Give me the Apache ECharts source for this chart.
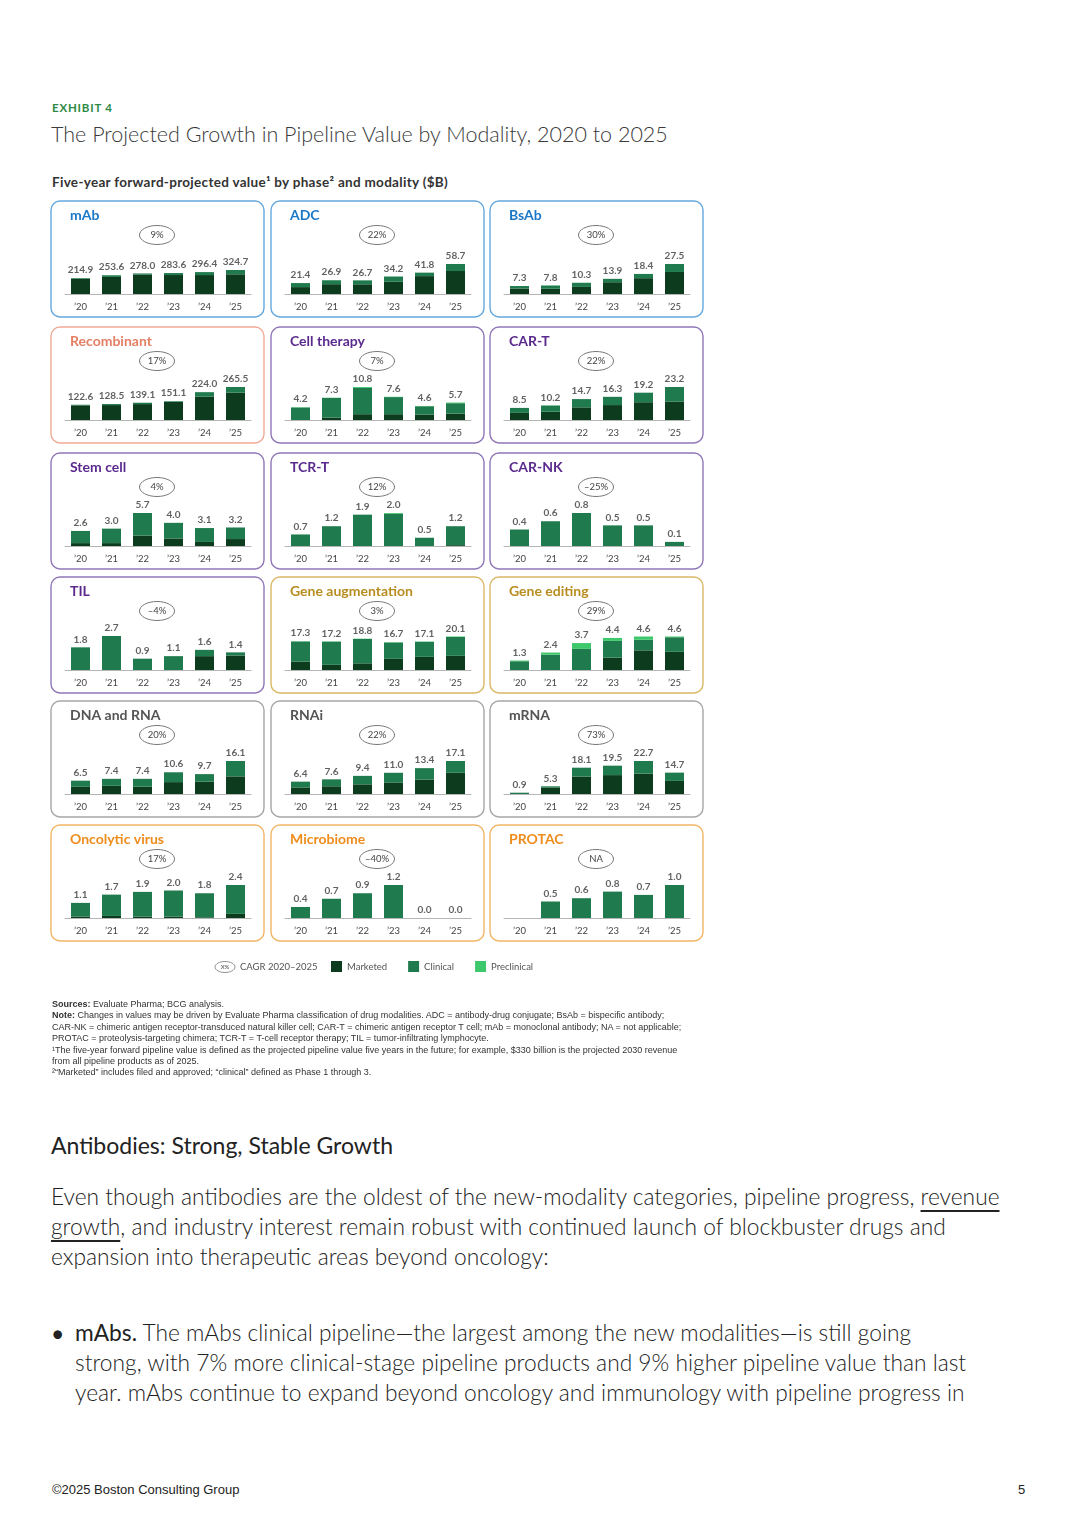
<!DOCTYPE html>
<html>
<head>
<meta charset="utf-8">
<script src="https://cdn.jsdelivr.net/npm/echarts@6/dist/echarts.min.js"></script>
<style>
  html, body { margin: 0; padding: 0; background: #fff; }
  #page { position: relative; width: 1080px; height: 1528px; overflow: hidden; font-family: Lato, "Noto Sans", sans-serif; color: #333; }
  #chart { position: absolute; left: 0; top: 0; width: 1080px; height: 1000px; }
  .t { position: absolute; white-space: nowrap; }
  .exhibit { left: 52px; top: 101px; font-size: 11.5px; font-weight: 700; color: #2d8a45; letter-spacing: 0.8px; }
  .title { left: 51px; top: 121px; font-size: 21.5px; font-weight: 300; color: #3a3a3a; }
  .sub { left: 52px; top: 174px; font-size: 13.5px; font-weight: 700; color: #333; letter-spacing: 0.3px; }
  .notes { left: 52px; top: 999px; font-family: "Liberation Sans", Arial, sans-serif; font-size: 9px; line-height: 11.4px; color: #333; }
  .h2 { left: 51px; top: 1131px; font-size: 23px; font-weight: 400; color: #222; }
  .para { left: 51px; top: 1182px; font-size: 22.75px; font-weight: 300; line-height: 30px; color: #222; }
  .para u { text-decoration: underline; text-underline-offset: 5px; }
  .bullet { left: 75px; top: 1318px; font-size: 22.75px; font-weight: 300; line-height: 30px; color: #222; }
  .dot { left: 51px; top: 1318px; font-size: 23px; line-height: 30px; color: #222; }
  .foot { left: 52px; top: 1482px; font-family: "Liberation Sans", Arial, sans-serif; font-size: 13px; color: #222; }
  .pg { left: 1018px; top: 1482px; font-family: "Liberation Sans", Arial, sans-serif; font-size: 13px; color: #222; }
</style>
</head>
<body>
<div id="page">
  <div class="t exhibit">EXHIBIT 4</div>
  <div class="t title">The Projected Growth in Pipeline Value by Modality, 2020 to 2025</div>
  <div class="t sub">Five-year forward-projected value¹ by phase² and modality ($B)</div>
  <div id="chart"></div>
  <div class="t notes"><b>Sources:</b> Evaluate Pharma; BCG analysis.<br>
<b>Note:</b> Changes in values may be driven by Evaluate Pharma classification of drug modalities. ADC = antibody-drug conjugate; BsAb = bispecific antibody;<br>
CAR-NK = chimeric antigen receptor-transduced natural killer cell; CAR-T = chimeric antigen receptor T cell; mAb = monoclonal antibody; NA = not applicable;<br>
PROTAC = proteolysis-targeting chimera; TCR-T = T-cell receptor therapy; TIL = tumor-infiltrating lymphocyte.<br>
¹The five-year forward pipeline value is defined as the projected pipeline value five years in the future; for example, $330 billion is the projected 2030 revenue<br>
from all pipeline products as of 2025.<br>
²“Marketed” includes filed and approved; “clinical” defined as Phase 1 through 3.</div>
  <div class="t h2">Antibodies: Strong, Stable Growth</div>
  <div class="t para">Even though antibodies are the oldest of the new-modality categories, pipeline progress, <u>revenue</u><br><u>growth</u>, and industry interest remain robust with continued launch of blockbuster drugs and<br>expansion into therapeutic areas beyond oncology:</div>
  <div class="t dot">•</div>
  <div class="t bullet"><span style="font-weight:400">mAbs.</span> The mAbs clinical pipeline—the largest among the new modalities—is still going<br>strong, with 7% more clinical-stage pipeline products and 9% higher pipeline value than last<br>year. mAbs continue to expand beyond oncology and immunology with pipeline progress in</div>
  <div class="t foot">©2025 Boston Consulting Group</div>
  <div class="t pg">5</div>
</div>

<script>
// data read from the exhibit
const years = ['’20', '’21', '’22', '’23', '’24', '’25']
const modalities = ['mAb', 'ADC', 'BsAb', 'Recombinant', 'Cell therapy', 'CAR-T',
  'Stem cell', 'TCR-T', 'CAR-NK', 'TIL', 'Gene augmentation', 'Gene editing',
  'DNA and RNA', 'RNAi', 'mRNA', 'Oncolytic virus', 'Microbiome', 'PROTAC']
const cagr = ['9%', '22%', '30%', '17%', '7%', '22%', '4%', '12%', '–25%', '–4%',
  '3%', '29%', '20%', '22%', '73%', '17%', '–40%', 'NA']

// total value labels ($B)
const totals = [
  [214.9, 253.6, 278.0, 283.6, 296.4, 324.7],
  [21.4, 26.9, 26.7, 34.2, 41.8, 58.7],
  [7.3, 7.8, 10.3, 13.9, 18.4, 27.5],
  [122.6, 128.5, 139.1, 151.1, 224.0, 265.5],
  [4.2, 7.3, 10.8, 7.6, 4.6, 5.7],
  [8.5, 10.2, 14.7, 16.3, 19.2, 23.2],
  [2.6, 3.0, 5.7, 4.0, 3.1, 3.2],
  [0.7, 1.2, 1.9, 2.0, 0.5, 1.2],
  [0.4, 0.6, 0.8, 0.5, 0.5, 0.1],
  [1.8, 2.7, 0.9, 1.1, 1.6, 1.4],
  [17.3, 17.2, 18.8, 16.7, 17.1, 20.1],
  [1.3, 2.4, 3.7, 4.4, 4.6, 4.6],
  [6.5, 7.4, 7.4, 10.6, 9.7, 16.1],
  [6.4, 7.6, 9.4, 11.0, 13.4, 17.1],
  [0.9, 5.3, 18.1, 19.5, 22.7, 14.7],
  [1.1, 1.7, 1.9, 2.0, 1.8, 2.4],
  [0.4, 0.7, 0.9, 1.2, 0.0, 0.0],
  [null, 0.5, 0.6, 0.8, 0.7, 1.0]
]
// estimated split by phase
const marketed = [
  [205.4, 230.6, 264.0, 256.6, 256.4, 266.7],
  [13.5, 19.2, 19.0, 24.0, 35.0, 45.0],
  [5.0, 4.8, 6.5, 10.8, 14.5, 20.2],
  [118.0, 120.0, 128.0, 146.0, 189.0, 220.0],
  [0, 0.8, 1.9, 1.9, 1.8, 2.1],
  [5.0, 5.8, 8.9, 10.5, 12.5, 13.0],
  [0.5, 0.5, 1.8, 1.3, 0.7, 1.2],
  [0, 0, 0, 0, 0, 0.05],
  [0, 0, 0, 0, 0, 0],
  [0, 0, 0, 0, 1.1, 1.15],
  [5.1, 3.1, 4.0, 6.7, 7.9, 8.5],
  [0, 0, 0, 1.7, 2.7, 2.5],
  [3.5, 4.0, 3.6, 5.8, 6.0, 8.6],
  [3.4, 4.0, 5.0, 6.0, 7.5, 11.0],
  [0, 4.5, 12.0, 13.0, 14.0, 9.0],
  [0.1, 0.15, 0.1, 0.1, 0.05, 0.3],
  [0, 0, 0, 0, 0, 0],
  [null, 0, 0, 0, 0, 0]
]
const clinical = [
  [9.5, 23.0, 14.0, 27.0, 40.0, 58.0],
  [7.9, 7.7, 7.7, 10.2, 6.8, 13.7],
  [2.3, 3.0, 3.8, 3.1, 3.9, 7.3],
  [4.6, 8.5, 11.1, 5.1, 35.0, 45.5],
  [4.1, 6.4, 8.6, 5.6, 2.7, 3.4],
  [3.5, 4.4, 5.8, 5.8, 6.7, 10.2],
  [2.1, 2.5, 3.9, 2.7, 2.4, 2.0],
  [0.7, 1.2, 1.9, 1.95, 0.5, 1.15],
  [0.4, 0.6, 0.8, 0.5, 0.5, 0.1],
  [1.8, 2.7, 0.9, 1.1, 0.5, 0.25],
  [12.0, 13.9, 14.6, 9.8, 9.0, 11.3],
  [1.2, 2.1, 2.9, 2.3, 1.45, 2.0],
  [3.0, 3.4, 3.8, 4.8, 3.7, 7.5],
  [3.0, 3.6, 4.4, 5.0, 5.9, 6.1],
  [0.9, 0.8, 6.1, 6.5, 8.7, 5.7],
  [1.0, 1.55, 1.8, 1.9, 1.75, 2.1],
  [0.4, 0.7, 0.9, 1.2, 0, 0],
  [null, 0.5, 0.6, 0.8, 0.7, 1.0]
]
const preclinical = [
  [0, 0, 0, 0, 0, 0],
  [0, 0, 0, 0, 0, 0],
  [0, 0, 0, 0, 0, 0],
  [0, 0, 0, 0, 0, 0],
  [0.1, 0.1, 0.3, 0.1, 0.1, 0.2],
  [0, 0, 0, 0, 0, 0],
  [0, 0, 0, 0, 0, 0],
  [0, 0, 0, 0.05, 0, 0],
  [0, 0, 0, 0, 0, 0],
  [0, 0, 0, 0, 0, 0],
  [0.2, 0.2, 0.2, 0.2, 0.2, 0.3],
  [0.1, 0.3, 0.8, 0.4, 0.45, 0.1],
  [0, 0, 0, 0, 0, 0],
  [0, 0, 0, 0, 0, 0],
  [0, 0, 0, 0, 0, 0],
  [0, 0, 0, 0, 0, 0],
  [0, 0, 0, 0, 0, 0],
  [null, 0, 0, 0, 0, 0]
]

// look
const groupOf = [0, 0, 0, 1, 2, 2, 2, 2, 2, 2, 3, 3, 4, 4, 4, 5, 5, 5]
const borderColors = ['#64a8de', '#f1aa98', '#8f77b8', '#d9b765', '#a6a6a6', '#f1b566']
const titleColors = ['#1b78c6', '#e47e64', '#5a2a8e', '#b88d20', '#555555', '#ee8c1c']
const phaseColors = { Marketed: '#0c3b1e', Clinical: '#1f7b4d', Preclinical: '#3dc86b' }
// tallest bar height in px per panel
const tallPx = [24, 30, 30, 33, 33, 33, 33, 33, 33, 34, 33.5, 33.5, 33, 33, 33, 33, 33, 33]

const colX = [51, 271, 490]
const rowY = [201, 327, 453, 577, 701, 825]
const panelW = 213, panelH = 116
const gridH = 38

let myChart = echarts.init(document.getElementById('chart'))
let grids = [], xAxes = [], yAxes = [], series = [], graphics = []

modalities.forEach(function (name, i) {
  let x0 = colX[i % 3], y0 = rowY[Math.floor(i / 3)]
  let g = groupOf[i]
  let maxTot = Math.max.apply(null, totals[i].filter(function (v) { return v != null }))
  grids.push({ left: x0 + 14, top: y0 + 93 - gridH, width: 186, height: gridH })
  xAxes.push({
    type: 'category', gridIndex: i, data: years,
    axisLine: { lineStyle: { color: '#b5b5b5', width: 1 } },
    axisTick: { show: false },
    axisLabel: { color: '#444', fontSize: 9.5, margin: 8, fontFamily: 'Lato' }
  })
  yAxes.push({ type: 'value', gridIndex: i, min: 0, max: maxTot * gridH / tallPx[i], show: false })
  ;[['Marketed', marketed], ['Clinical', clinical], ['Preclinical', preclinical]].forEach(function (p) {
    series.push({
      name: p[0], type: 'bar', xAxisIndex: i, yAxisIndex: i, stack: 's' + i,
      barWidth: 19, data: p[1][i], silent: true,
      itemStyle: { color: phaseColors[p[0]] }
    })
  })
  series.push({
    type: 'scatter', xAxisIndex: i, yAxisIndex: i, symbolSize: 0, silent: true,
    data: totals[i],
    label: {
      show: true, position: 'top', distance: 3, color: '#3a3a3a', fontSize: 10,
      fontWeight: 'bold', fontFamily: 'Lato',
      formatter: function (p) { return p.value == null ? '' : p.value.toFixed(1) }
    }
  })
  graphics.push({
    type: 'rect', shape: { x: x0, y: y0, width: panelW, height: panelH, r: 9 },
    style: { fill: 'none', stroke: borderColors[g], lineWidth: 1.4 }, silent: true
  })
  graphics.push({
    type: 'text', x: x0 + 19, y: y0 + 14,
    style: { text: name, fill: titleColors[g], font: 'bold 14px Lato', textVerticalAlign: 'middle' }
  })
  graphics.push({
    type: 'ellipse', shape: { cx: x0 + 106, cy: y0 + 34, rx: 17.5, ry: 9.5 },
    style: { fill: '#fff', stroke: '#777', lineWidth: 1 }
  })
  graphics.push({
    type: 'text', x: x0 + 106, y: y0 + 34,
    style: { text: cagr[i], fill: '#444', font: '9.5px Lato', textAlign: 'center', textVerticalAlign: 'middle' }
  })
})

// CAGR key in the legend row
graphics.push({
  type: 'ellipse', shape: { cx: 225, cy: 967, rx: 10, ry: 5.5 },
  style: { fill: '#fff', stroke: '#777', lineWidth: 0.8 }
})
graphics.push({
  type: 'text', x: 225, y: 967,
  style: { text: 'X%', fill: '#444', font: '6px Lato', textAlign: 'center', textVerticalAlign: 'middle' }
})
graphics.push({
  type: 'text', x: 240, y: 967,
  style: { text: 'CAGR 2020–2025', fill: '#555', font: '9.5px Lato', textVerticalAlign: 'middle' }
})

let option = {
  animation: false,
  legend: {
    data: ['Marketed', 'Clinical', 'Preclinical'],
    left: 331, top: 961, padding: 0, icon: 'rect', itemWidth: 11, itemHeight: 11, itemGap: 21,
    selectedMode: false,
    textStyle: { color: '#555', fontSize: 9.5, fontFamily: 'Lato' }
  },
  grid: grids,
  xAxis: xAxes,
  yAxis: yAxes,
  series: series,
  graphic: graphics
}
myChart.setOption(option)
</script>
</body>
</html>
